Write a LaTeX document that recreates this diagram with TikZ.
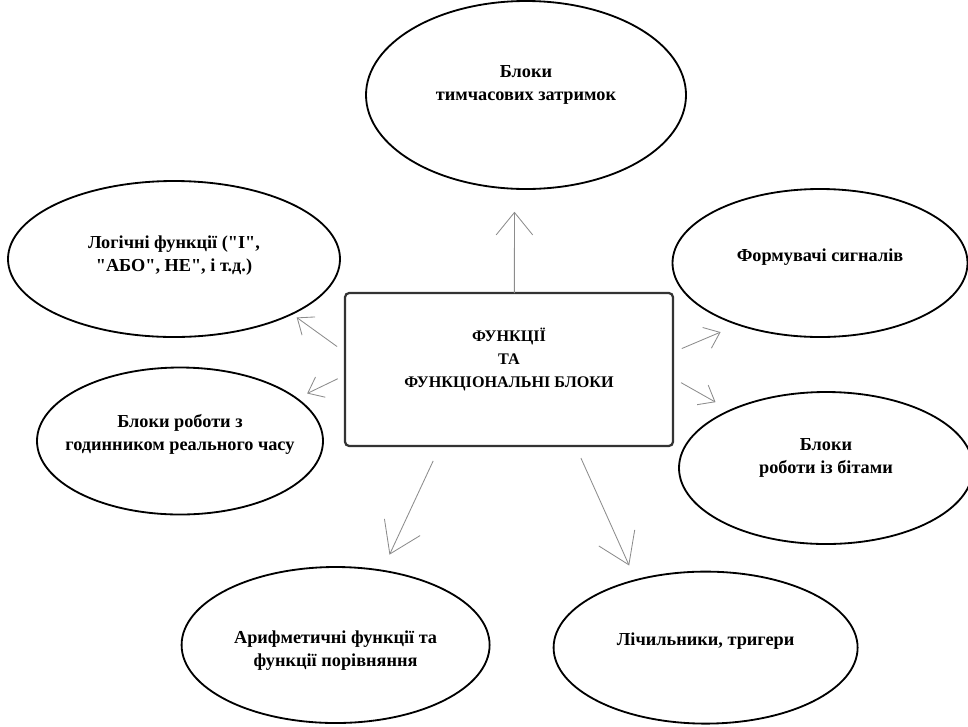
\documentclass[tikz,border=0pt]{standalone}
\usepackage{fontspec}
\setmainfont{Liberation Serif}
\usetikzlibrary{arrows.meta,shapes.geometric}

\begin{document}
\begin{tikzpicture}[font=\fontsize{13}{16.3}\selectfont\bfseries,
  blob/.style={draw, ellipse, line width=1.3pt, inner sep=0pt, outer sep=0pt},
  txt/.style={align=center, inner sep=0pt},
  hub/.style={draw=black!80, line width=1.6pt, rounded corners=3pt, inner sep=0pt,
    outer sep=0pt, minimum width=8.2cm, minimum height=3.825cm},
  arr/.style={draw=black!45, line width=0.6pt},
  arrS/.style={arr, -{Straight Barb[length=10pt, width=16pt]}},
  arrU/.style={arr, -{Straight Barb[length=16pt, width=26pt]}},
  arrL/.style={arr, -{Straight Barb[length=21pt, width=28pt]}}]

  \useasboundingbox (0,0) rectangle (24.2,-18.15);

  % ---- centre block ----
  \node[hub, label={[txt, yshift=0.24cm, font=\fontsize{11.5}{16.3}\selectfont\bfseries]
      center:{ФУНКЦІЇ\\ТА\\ФУНКЦІОНАЛЬНІ БЛОКИ}}]
    (fb) at (12.725,-9.2375) {};

  % ---- the seven function groups ----
  \node[blob, minimum width=8.0cm, minimum height=4.7cm,
    label={[txt, yshift=0.25cm]center:{Блоки\\тимчасових затримок}}]
    (top) at (13.15,-2.375) {};
  \node[blob, minimum width=8.3cm, minimum height=3.9cm,
    label={[txt, yshift=0.075cm]center:{Логічні функції (\textquotedbl I\textquotedbl,\\
      \textquotedbl АБО\textquotedbl, НЕ\textquotedbl, і т.д.)}}]
    (logic) at (4.35,-6.475) {};
  \node[blob, minimum width=7.375cm, minimum height=3.7cm,
    label={[txt, yshift=0.15cm]center:{Формувачі сигналів}}]
    (form) at (20.5,-6.575) {};
  \node[blob, minimum width=7.15cm, minimum height=3.675cm,
    label={[txt, yshift=0.175cm]center:{Блоки роботи з\\годинником реального часу}}]
    (clock) at (4.5,-11.025) {};
  \node[blob, minimum width=7.35cm, minimum height=3.8cm,
    label={[txt, yshift=0.25cm]center:{Блоки\\роботи із бітами}}]
    (bits) at (20.65,-11.7) {};
  \node[blob, minimum width=7.7cm, minimum height=3.9cm,
    label={[txt, yshift=-0.15cm]center:{Арифметичні функції та\\функції порівняння}}]
    (arith) at (8.39,-16.125) {};
  \node[blob, minimum width=7.6cm, minimum height=3.8cm,
    label={[txt, yshift=0.175cm]center:{Лічильники, тригери}}]
    (count) at (17.64,-16.19) {};

  % ---- arrows out of the centre block ----
  \draw[arrU, shorten >=0.575cm] (fb.86) -- (top.263);
  \draw[arrS, shorten <=0.245cm, shorten >=0.15cm] (fb.174) -- (logic.335);
  \draw[arrS, shorten <=0.2cm, shorten >=0.29cm] (fb.182) -- (clock.20);
  \draw[arrS, shorten <=0.24cm, shorten >=0.48cm] (fb.6) -- (form.217);
  \draw[arrS, shorten <=0.23cm, shorten >=0.42cm] (fb.357) -- (bits.149);
  \draw[arrL, shorten <=0.41cm, shorten >=0.44cm] (fb.228) -- (arith.58);
  \draw[arrL, shorten <=0.33cm, shorten >=0.4cm] (fb.311) -- (count.136);

\end{tikzpicture}
\end{document}
